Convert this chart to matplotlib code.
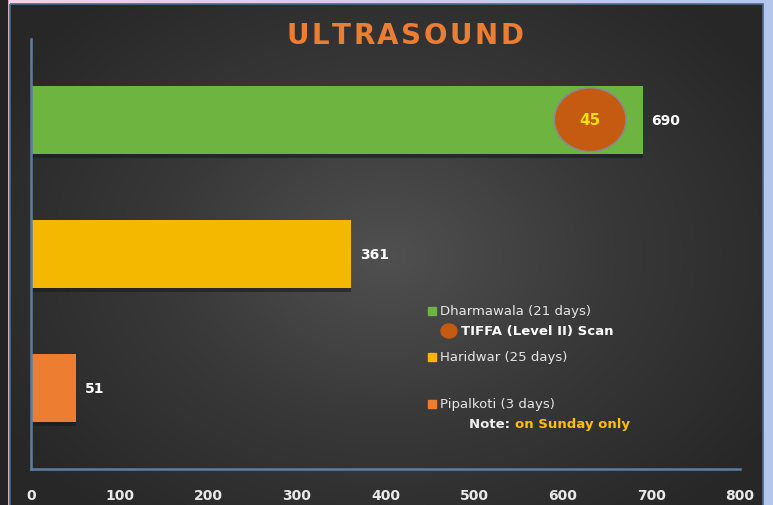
import numpy as np
import matplotlib.pyplot as plt
from matplotlib.patches import Rectangle, Ellipse
from matplotlib.colors import LinearSegmentedColormap

# data
places = ["Pipalkoti (3 days)", "Haridwar (25 days)", "Dharmawala (21 days)"]
counts = [51, 361, 690]
colors = ["#ED7D31", "#F5B800", "#6DB441"]
tiffa_count = 45
xticks = [0, 100, 200, 300, 400, 500, 600, 700, 800]

W, H = 773, 506
fig = plt.figure(figsize=(W / 100, H / 100), dpi=100)

# page background + dark panel
bg = fig.add_axes([0, 0, 1, 1])
bg.axis("off")
top = np.linspace(0, 1, 200).reshape(1, -1)
edge_cmap = LinearSegmentedColormap.from_list("edge", ["#f2d2e8", "#b4c6ec"])
bg.imshow(top, extent=[0, W, H, 0], cmap=edge_cmap, aspect="auto", zorder=0)
bg.add_patch(Rectangle((0, 0), 7, H, color="#232323", zorder=1))
yy, xx = np.mgrid[0:250, 0:380]
r = np.sqrt(((xx - 190) / 230.0) ** 2 + ((yy - 125) / 170.0) ** 2)
panel_cmap = LinearSegmentedColormap.from_list("panel", ["#505050", "#383838", "#272727"])
bg.imshow(np.clip(r, 0, 1), extent=[10, 763, H, 5], cmap=panel_cmap, aspect="auto", zorder=2)
bg.add_patch(Rectangle((10, 5), 753, 510, fill=False, ec="#4a6a8a", lw=1.2, zorder=3))
bg.set_xlim(0, W)
bg.set_ylim(H, 0)

# title with tracked letters
fig.canvas.draw()
rend = fig.canvas.get_renderer()
inv = bg.transData.inverted()
title = "ULTRASOUND"
tracking = 2.5
pieces = []
x = 0
for ch in title:
    t = bg.text(x, 36, ch, color="#ED7D31", fontsize=20, fontweight="bold",
                ha="left", va="center", zorder=5)
    bb = t.get_window_extent(renderer=rend)
    w = inv.transform((bb.x1, 0))[0] - inv.transform((bb.x0, 0))[0]
    pieces.append((t, w))
    x += w + tracking
total = x - tracking
x = 405 - total / 2
for t, w in pieces:
    t.set_x(x)
    x += w + tracking

# main chart
ax = fig.add_axes([31 / W, (H - 470) / H, (740 - 31) / W, 430 / H])
ax.patch.set_alpha(0)
ypos = np.arange(len(places))
# shadows
ax.barh(ypos - 0.03, counts, height=0.505, color="#1a1a1a", alpha=0.6, zorder=1)
ax.barh(ypos, counts, height=0.505, color=colors, zorder=2)
for y, v in zip(ypos, counts):
    ax.text(v + 10, y, str(v), color="white", fontsize=10, fontweight="bold",
            va="center", ha="left", zorder=4)

ax.add_patch(Ellipse((631, 2), 81, 0.475, fc="#C55A11", ec="#8a8a8a", lw=1.2, zorder=3))
ax.text(631, 2, str(tiffa_count), color="#FFE000", fontsize=11, fontweight="bold",
        ha="center", va="center", zorder=4)

ax.set_xlim(0, 800)
ax.set_ylim(-0.6, 2.6)
ax.set_xticks(xticks)
ax.set_yticks([])
for s in ["top", "right"]:
    ax.spines[s].set_visible(False)
for s in ["left", "bottom"]:
    ax.spines[s].set_color("#5d7f9f")
    ax.spines[s].set_linewidth(1.8)
ax.tick_params(axis="x", length=0, pad=14, colors="#e8e8e8")
for lab in ax.get_xticklabels():
    lab.set_fontsize(10)
    lab.set_fontweight("bold")

# legend drawn by hand
lx = 432
leg = [(312, places[2], colors[2]), (358, places[1], colors[1]), (405, places[0], colors[0])]
for y, name, c in leg:
    bg.add_patch(Rectangle((lx - 4, y - 4), 8, 8, color=c, zorder=5))
    bg.text(lx + 8, y, name, color="#e6e6e6", fontsize=9.5, va="center", ha="left", zorder=5)
bg.add_patch(Ellipse((449, 332), 16, 14, color="#C55A11", zorder=5))
bg.text(461, 332, "TIFFA (Level II) Scan", color="white", fontsize=9.5, fontweight="bold",
        va="center", ha="left", zorder=5)
t = bg.text(469, 425, "Note: ", color="#eeeeee", fontsize=9.5, fontweight="bold",
            va="center", ha="left", zorder=5)
bb = t.get_window_extent(renderer=rend)
x_end = inv.transform((bb.x1, 0))[0]
bg.text(x_end, 425, "on Sunday only", color="#FFC000", fontsize=9.5, fontweight="bold",
        va="center", ha="left", zorder=5)

fig.savefig("out.png", dpi=100)
